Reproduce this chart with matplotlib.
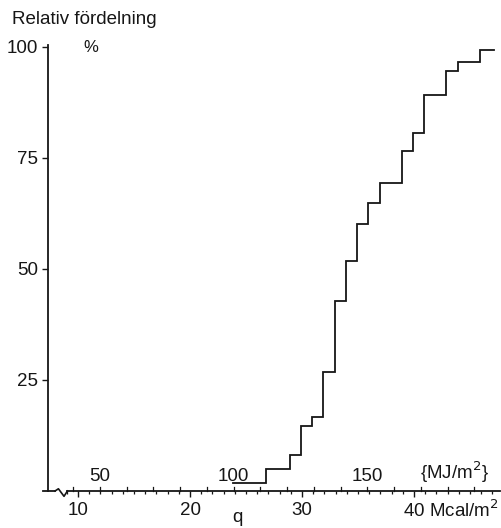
import numpy as np
import matplotlib
matplotlib.use("Agg")
from matplotlib import pyplot as plt

plt.rcParams['font.family'] = ['Liberation Sans', 'DejaVu Sans']

# trappstegens gränser (Mcal/m2) och relativ fördelning (%) på varje steg
q_edges = [23.85, 26.8, 28.9, 29.9, 30.9, 31.9, 32.95, 33.95, 34.9, 35.9,
           36.95, 38.9, 39.9, 40.9, 42.9, 43.9, 45.9, 47.1]
fordelning = [1.9, 4.9, 8.1, 14.7, 16.7, 26.9, 42.7, 51.9, 60.1, 64.9,
              69.4, 76.6, 80.6, 89.2, 94.6, 96.7, 99.3]

y_ticks = [25, 50, 75, 100]
mcal_ticks = [10, 20, 30]
mj_ticks = [50, 100, 150]
MJ_PER_MCAL = 4.1868
FS = 13.5
INK = '#161616'

fig = plt.figure(figsize=(5.01, 5.28), dpi=100)
ax = fig.add_axes([48 / 501, 37 / 528, 452 / 501, 446 / 528])
ax.set_xlim(7.32, 47.68)
ax.set_ylim(0, 100.45)

# kurvan
ax.plot(q_edges, fordelning + [fordelning[-1]], drawstyle='steps-post',
        color=INK, lw=1.3, solid_joinstyle='miter')

# axlar
for side in ['top', 'right', 'bottom']:
    ax.spines[side].set_visible(False)
ax.spines['left'].set_linewidth(1.3)
ax.spines['left'].set_color(INK)

# x-axeln ritas i två delar med en brytmarkering emellan
ax.plot([6.85, 7.95], [0, 0], color=INK, lw=1.3, clip_on=False)
ax.plot([7.95, 8.25, 8.75, 9.05], [0, 0.5, -1.2, 0], color=INK, lw=1.2,
        clip_on=False)
ax.plot([9.05, 47.68], [0, 0], color=INK, lw=1.3, clip_on=False)

# y-axel
ax.set_yticks(y_ticks)
ax.set_yticklabels([str(v) for v in y_ticks])
ax.tick_params(axis='y', direction='out', length=4, width=1.0, pad=3,
               labelsize=FS, colors=INK)

# x-axel: Mcal under, MJ över
ax.set_xticks(mcal_ticks + [40])
ax.set_xticklabels([str(v) for v in mcal_ticks] + [''])
ax.set_xticks(np.arange(9, 48, 1), minor=True)
ax.tick_params(axis='x', which='major', direction='out', length=4, width=1.0,
               pad=4, labelsize=FS, colors=INK)
ax.tick_params(axis='x', which='minor', direction='out', length=2.5, width=0.9,
               colors=INK)
ax.text(39.0, -2.0, '40 Mcal/m$^2$', ha='left', va='top', fontsize=FS,
        color=INK)

for v in np.arange(40, 200, 10):
    xm = v / MJ_PER_MCAL
    ax.plot([xm, xm], [0, 1.0], color=INK, lw=0.9, clip_on=False)
for v in mj_ticks:
    ax.text(v / MJ_PER_MCAL, 1.4, str(v), ha='center', va='bottom',
            fontsize=FS, color=INK)
ax.text(43.6, 1.4, '{MJ/m$^2$}', ha='center', va='bottom', fontsize=FS,
        color=INK)

# rubriker
fig.text(12 / 501, 1 - 20 / 528, 'Relativ fördelning', ha='left',
         va='center', fontsize=FS, color=INK)
fig.text(91 / 501, 1 - 48 / 528, '%', ha='center', va='center',
         fontsize=12, color=INK)
fig.text(237 / 501, 1 - 518 / 528, 'q', ha='center', va='center',
         fontsize=FS, color=INK)

plt.savefig('out.png', dpi=100)
plt.close()
